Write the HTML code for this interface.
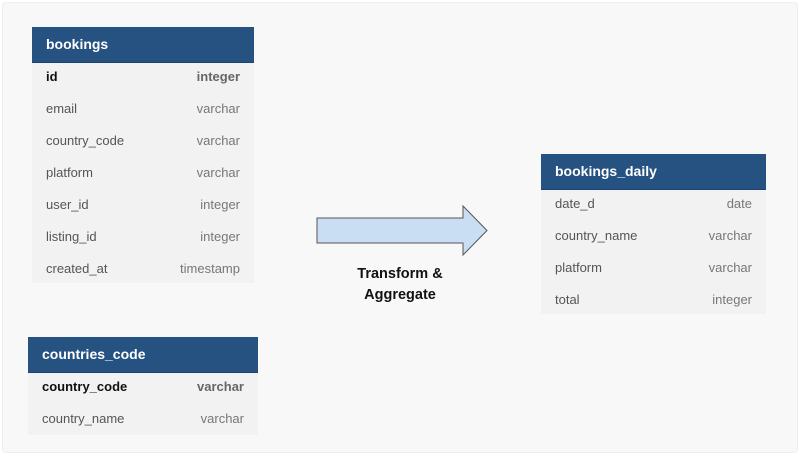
<!DOCTYPE html>
<html><head><style>
body{margin:0;width:800px;height:455px;background:#fff;font-family:"Liberation Sans",sans-serif;position:relative;overflow:hidden}
.bg{position:absolute;left:2px;top:2px;width:794px;height:449px;background:#f8f8f8;border:1px solid #eee;border-radius:4px}
.t{position:absolute;background:#f2f2f2}
.h{background:#265282;color:#fff;font-weight:bold;font-size:14px;height:35px;line-height:35px;padding-left:14px;border-bottom:1px solid #1d4370}
.r{height:32px;line-height:28px;font-size:13px;color:#555;padding:0 14px;display:flex;justify-content:space-between}
.r span:last-child{color:#777}
.b{font-weight:bold;color:#111}
.b span:last-child{color:#666}
.lbl{position:absolute;left:330px;top:264px;width:140px;text-align:center;font-weight:bold;font-size:14.5px;line-height:21px;color:#111}
</style></head><body>
<div class="bg"></div>
<div class="t" style="left:32px;top:27px;width:222px;height:256px">
<div class="h">bookings</div>
<div class="r b"><span>id</span><span>integer</span></div>
<div class="r"><span>email</span><span>varchar</span></div>
<div class="r"><span>country_code</span><span>varchar</span></div>
<div class="r"><span>platform</span><span>varchar</span></div>
<div class="r"><span>user_id</span><span>integer</span></div>
<div class="r"><span>listing_id</span><span>integer</span></div>
<div class="r"><span>created_at</span><span>timestamp</span></div>
</div>
<div class="t" style="left:28px;top:337px;width:230px;height:98px">
<div class="h">countries_code</div>
<div class="r b"><span>country_code</span><span>varchar</span></div>
<div class="r"><span>country_name</span><span>varchar</span></div>
</div>
<div class="t" style="left:541px;top:154px;width:225px;height:160px">
<div class="h">bookings_daily</div>
<div class="r"><span>date_d</span><span>date</span></div>
<div class="r"><span>country_name</span><span>varchar</span></div>
<div class="r"><span>platform</span><span>varchar</span></div>
<div class="r"><span>total</span><span>integer</span></div>
</div>
<svg style="position:absolute;left:0;top:0" width="800" height="455">
<polygon points="317,218 463,218 463,206 487,230.5 463,255 463,243 317,243" fill="#c9def2" stroke="#555" stroke-width="1"/>
</svg>
<div class="lbl">Transform &amp;<br>Aggregate</div>
</body></html>
